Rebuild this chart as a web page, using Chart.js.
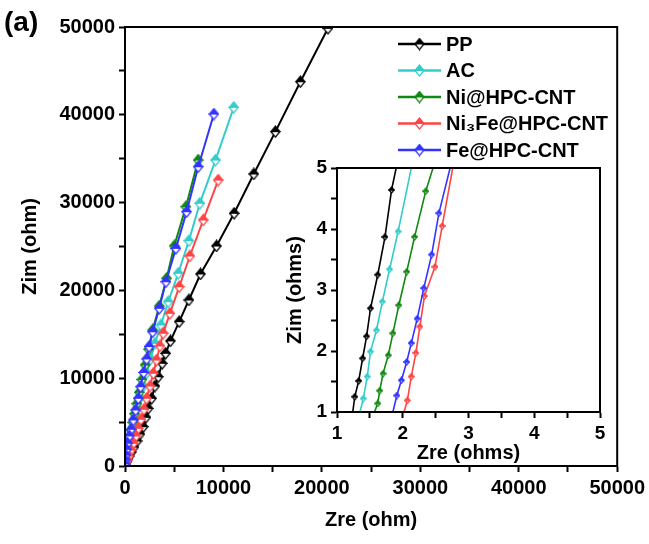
<!DOCTYPE html>
<html>
<head>
<meta charset="utf-8">
<script src="https://cdn.jsdelivr.net/npm/chart.js@4"></script>
<style>
  body { margin: 0; background: #fff; }
  #wrap { position: relative; width: 649px; height: 544px; }
  #inset { position: absolute; left: 270px; top: 150px; }
  #tag { position: absolute; left: 4px; top: 6px; font: bold 28px "Liberation Sans", Arial, sans-serif; }
</style>
</head>
<body>
<div id="wrap">
  <canvas id="main" width="649" height="544"></canvas>
  <canvas id="inset" width="345" height="320"></canvas>
  <div id="tag">(a)</div>
</div>
<script>
// series names and colours
const seriesNames = ['PP', 'AC', 'Ni@HPC-CNT', 'Ni\u2083Fe@HPC-CNT', 'Fe@HPC-CNT'];
const seriesColors = ['#000000', '#33cccc', '#118811', '#ff4444', '#3333ff'];

// main plot, Zre / Zim in ohm
const ppX = [20620, 17820, 15280, 13080, 11090, 9300, 7670, 6490, 5510, 4620, 4130, 3780, 3380, 3040, 2710, 2360, 2130, 1860, 1520, 1220, 910, 660, 460, 300, 200, 100, 50, 10];
const ppY = [49850, 43770, 38080, 33260, 28780, 25060, 21870, 18910, 16440, 14250, 12840, 11700, 10170, 9110, 7710, 6570, 5550, 4480, 3640, 2850, 2160, 1590, 1140, 800, 510, 280, 110, 20];
const acX = [11050, 9200, 7600, 6490, 5410, 4390, 3650, 3040, 2600, 2200, 1850, 1550, 1280, 1050, 850, 680, 530, 400, 290, 200, 120, 60, 20];
const acY = [40850, 34850, 29920, 25660, 21950, 18710, 16060, 13970, 12200, 10600, 9100, 7800, 6600, 5500, 4500, 3650, 2900, 2250, 1700, 1200, 750, 380, 120];
const niX = [7440, 6190, 5000, 4230, 3480, 2810, 2400, 2050, 1720, 1450, 1200, 980, 800, 640, 500, 380, 280, 190, 110, 50, 15];
const niY = [34850, 29530, 25060, 21380, 18220, 15490, 13300, 11500, 9850, 8400, 7100, 5950, 4950, 4050, 3300, 2600, 2000, 1450, 950, 500, 150];
const nifeX = [9470, 7950, 6590, 5510, 4560, 3880, 3550, 3210, 2870, 2540, 2200, 1930, 1620, 1350, 1120, 840, 610, 410, 250, 100, 20];
const nifeY = [32570, 28020, 23920, 20420, 17390, 15120, 13670, 12070, 10560, 9110, 7710, 6460, 5320, 4290, 3420, 2590, 1820, 1140, 680, 280, 50];
const feX = [9030, 7440, 6260, 5170, 4160, 3480, 2810, 2450, 2200, 1900, 1590, 1350, 1080, 840, 610, 440, 270, 170, 70, 30, 10];
const feY = [40090, 34090, 28960, 24790, 20990, 17960, 15290, 13600, 12200, 10650, 9030, 7710, 6380, 5240, 4180, 3420, 2590, 1900, 1250, 680, 230];

// inset, Zre / Zim in ohms
const ppInX = [1.24, 1.27, 1.33, 1.39, 1.45, 1.51, 1.62, 1.73, 1.83, 1.90];
const ppInY = [1, 1.25, 1.51, 1.88, 2.24, 2.70, 3.25, 3.87, 4.64, 5];
const acInX = [1.35, 1.40, 1.46, 1.51, 1.60, 1.69, 1.80, 1.93, 2.13];
const acInY = [1, 1.22, 1.58, 1.99, 2.34, 2.81, 3.34, 3.96, 5];
const niInX = [1.57, 1.62, 1.65, 1.70, 1.78, 1.85, 1.94, 2.06, 2.18, 2.35, 2.46];
const niInY = [1, 1.14, 1.35, 1.63, 1.93, 2.29, 2.75, 3.30, 3.87, 4.62, 5];
const nifeInX = [2.02, 2.07, 2.13, 2.20, 2.26, 2.33, 2.49, 2.60, 2.76];
const nifeInY = [1, 1.19, 1.58, 1.97, 2.40, 2.90, 3.38, 4.05, 5];
const feInX = [1.85, 1.91, 1.98, 2.06, 2.13, 2.22, 2.32, 2.44, 2.55, 2.72];
const feInY = [1, 1.27, 1.52, 1.82, 2.13, 2.53, 3.03, 3.58, 4.26, 5];

const mainTicks = [0, 10000, 20000, 30000, 40000, 50000];
const insetTicks = [1, 2, 3, 4, 5];

const FONT = '"Liberation Sans", Arial, sans-serif';

function pairs(xs, ys) {
  return xs.map((x, i) => ({x: x, y: ys[i]}));
}

// diamond with filled top half and open bottom half
function halfDiamond(color, w, h) {
  const c = document.createElement('canvas');
  c.width = w + 2;
  c.height = h + 2;
  const g = c.getContext('2d');
  const cx = c.width / 2, cy = c.height / 2;
  g.lineWidth = 1.2;
  g.strokeStyle = color;
  g.beginPath();
  g.moveTo(1, cy); g.lineTo(cx, c.height - 1); g.lineTo(c.width - 1, cy); g.closePath();
  g.fillStyle = '#fff'; g.fill(); g.stroke();
  g.beginPath();
  g.moveTo(1, cy); g.lineTo(cx, 1); g.lineTo(c.width - 1, cy); g.closePath();
  g.fillStyle = color; g.fill(); g.stroke();
  return c;
}

const frame = {
  id: 'frame',
  afterDraw(chart) {
    const a = chart.chartArea, ctx = chart.ctx;
    ctx.save();
    ctx.strokeStyle = '#000';
    ctx.lineWidth = 2;
    ctx.strokeRect(a.left, a.top, a.right - a.left, a.bottom - a.top);
    ctx.restore();
  }
};

const boxLegend = {
  id: 'boxLegend',
  afterDraw(chart) {
    const ctx = chart.ctx;
    ctx.save();
    ctx.font = 'bold 20px ' + FONT;
    ctx.textBaseline = 'middle';
    chart.data.datasets.forEach((ds, i) => {
      const y = 44 + i * 26.5;
      ctx.strokeStyle = ds.borderColor;
      ctx.lineWidth = 2.5;
      ctx.beginPath(); ctx.moveTo(398, y); ctx.lineTo(441, y); ctx.stroke();
      const m = ds.pointStyle;
      ctx.drawImage(m, 419.5 - m.width / 2, y - m.height / 2);
      ctx.fillStyle = '#000';
      ctx.fillText(ds.label, 446, y + 1);
    });
    ctx.restore();
  }
};

function axis(min, max, step, labels, titleText, titlePad, fontSize, fit) {
  return {
    type: 'linear',
    min: min,
    max: max,
    afterFit: fit,
    border: {display: true, color: '#000', width: 2},
    grid: {drawOnChartArea: false, drawTicks: true, tickLength: 6, tickColor: '#000', tickWidth: 2},
    ticks: {
      stepSize: step,
      autoSkip: false,
      maxRotation: 0,
      padding: 4,
      color: '#000',
      font: {family: FONT, size: fontSize, weight: 'bold'},
      callback: v => labels.includes(v) ? String(v) : ''
    },
    title: {display: true, text: titleText, color: '#000', padding: titlePad,
            font: {family: FONT, size: 20, weight: 'bold'}}
  };
}

const mainData = [pairs(ppX, ppY), pairs(acX, acY), pairs(niX, niY), pairs(nifeX, nifeY), pairs(feX, feY)];
const insetData = [pairs(ppInX, ppInY), pairs(acInX, acInY), pairs(niInX, niInY), pairs(nifeInX, nifeInY), pairs(feInX, feInY)];

new Chart(document.getElementById('main'), {
  type: 'scatter',
  data: {
    datasets: mainData.map((d, i) => ({
      label: seriesNames[i],
      data: d,
      showLine: true,
      borderColor: seriesColors[i],
      borderWidth: 2,
      pointStyle: halfDiamond(seriesColors[i], 9, 11),
      order: 5 - i
    }))
  },
  options: {
    responsive: false,
    animation: false,
    layout: {padding: {left: 0, top: 27, right: 31, bottom: 0}},
    plugins: {legend: {display: false}, tooltip: {enabled: false}},
    scales: {
      x: Object.assign(axis(0, 50000, 5000, mainTicks, 'Zre (ohm)', {top: 0, bottom: 12}, 20,
        s => { s.height = 78; }), {position: 'bottom'}),
      y: Object.assign(axis(0, 50000, 5000, mainTicks, 'Zim (ohm)', {top: 18, bottom: 0}, 20,
        s => { s.width = 125; }), {position: 'left'})
    }
  },
  plugins: [frame, boxLegend]
});

new Chart(document.getElementById('inset'), {
  type: 'scatter',
  data: {
    datasets: insetData.map((d, i) => ({
      label: seriesNames[i],
      data: d,
      showLine: true,
      borderColor: seriesColors[i],
      borderWidth: 1.6,
      pointStyle: halfDiamond(seriesColors[i], 5, 6),
      pointRadius: ctx => (ctx.dataIndex === 0 || ctx.dataIndex === d.length - 1) ? 0 : 3,
      order: 5 - i
    }))
  },
  options: {
    responsive: false,
    animation: false,
    layout: {padding: {left: 0, top: 18, right: 15, bottom: 0}},
    plugins: {legend: {display: false}, tooltip: {enabled: false}},
    scales: {
      x: Object.assign(axis(1, 5, 0.5, insetTicks, 'Zre (ohms)', {top: 0, bottom: 5}, 19,
        s => { s.height = 58; }), {position: 'bottom'}),
      y: Object.assign(axis(1, 5, 0.5, insetTicks, 'Zim (ohms)', {top: 13, bottom: 0}, 19,
        s => { s.width = 67; }), {position: 'left'})
    }
  },
  plugins: [frame]
});
</script>
</body>
</html>
